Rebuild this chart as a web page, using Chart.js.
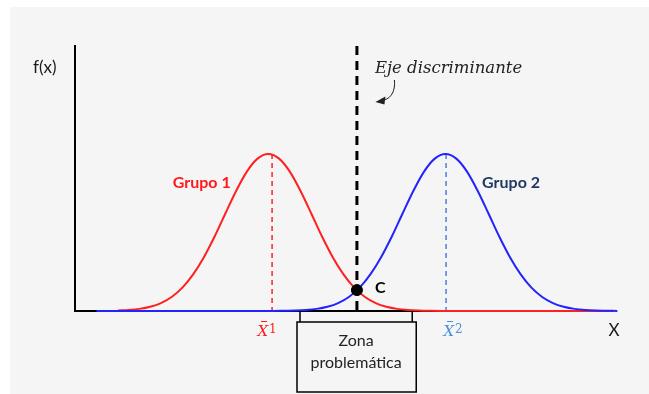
<!DOCTYPE html>
<html>
<head>
<meta charset="utf-8">
<script src="https://cdn.jsdelivr.net/npm/chart.js@4"></script>
<style>
    html, body { margin: 0; padding: 0; background: #fff; }
    canvas { display: block; }
</style>
</head>
<body>
<canvas id="discChart" width="649" height="394"></canvas>
<script>
// Grupo 1 (red) curve
const redX = [8, 10, 12, 14, 16, 18, 20, 22, 24, 26, 28, 30, 32, 34, 36, 38, 40, 42, 44, 46, 48, 50, 52, 54, 56, 58, 60, 62, 64, 66, 70, 100]
const redY = [0.002, 0.004, 0.008, 0.016, 0.030, 0.053, 0.088, 0.138, 0.203, 0.281, 0.368, 0.453, 0.526, 0.575, 0.592, 0.575, 0.526, 0.453, 0.368, 0.281, 0.203, 0.138, 0.088, 0.053, 0.030, 0.016, 0.008, 0.004, 0.002, 0.001, 0, 0]

// Grupo 2 (blue) curve
const blueX = [4, 37, 39, 41, 43, 45, 47, 49, 51, 53, 55, 57, 59, 61, 63, 65, 67, 69, 71, 73, 75, 77, 79, 81, 83, 85, 87, 89, 91, 93, 95, 97, 99, 101]
const blueY = [0, 0, 0.001, 0.002, 0.004, 0.008, 0.016, 0.030, 0.053, 0.088, 0.138, 0.203, 0.281, 0.368, 0.453, 0.526, 0.575, 0.592, 0.575, 0.526, 0.453, 0.368, 0.281, 0.203, 0.138, 0.088, 0.053, 0.030, 0.016, 0.008, 0.004, 0.002, 0.001, 0]

const meanLineX = [36.7, 69.1]
const peakY = 0.592
const cutX = 52.5
const cutY = 0.079
const zoneRange = [41.9, 62.8]
const groupLabels = ['Grupo 1', 'Grupo 2']
const groupLabelPos = [[23.6, 0.483], [81.2, 0.483]]

const toPoints = (xs, ys) => xs.map((x, i) => ({ x: x, y: ys[i] }))

const drawExtras = {
    id: 'drawExtras',
    beforeDraw(chart) {
        const ctx = chart.ctx
        ctx.save()
        ctx.fillStyle = '#ffffff'
        ctx.fillRect(0, 0, chart.width, chart.height)
        ctx.fillStyle = '#f5f5f5'
        ctx.fillRect(10, 7, chart.width - 10, chart.height - 7)
        ctx.restore()
    },
    afterDraw(chart) {
        const { ctx, scales: { x, y } } = chart
        const base = y.getPixelForValue(0)
        const cx = x.getPixelForValue(cutX)
        ctx.save()

        // group labels
        ctx.font = "bold 16px Lato"
        ctx.textAlign = 'center'
        ctx.textBaseline = 'middle'
        ctx.fillStyle = '#ff1a1a'
        ctx.fillText(groupLabels[0], x.getPixelForValue(groupLabelPos[0][0]), y.getPixelForValue(groupLabelPos[0][1]))
        ctx.fillStyle = '#1f3864'
        ctx.fillText(groupLabels[1], x.getPixelForValue(groupLabelPos[1][0]), y.getPixelForValue(groupLabelPos[1][1]))

        // point C
        ctx.fillStyle = '#000'
        ctx.textAlign = 'left'
        ctx.fillText('C', cx + 18, y.getPixelForValue(cutY) - 2)

        // axis names
        ctx.fillStyle = '#1a1a1a'
        ctx.font = "17px Lato"
        ctx.fillText('f(x)', 33, 68)
        ctx.textAlign = 'center'
        ctx.fillText('X', 614, 331)

        // mean labels (x bar)
        const meanColors = ['#ff1a1a', '#4a8fdb']
        const meanOffsets = [-6, 6]
        meanLineX.forEach((m, i) => {
            const px = x.getPixelForValue(m) + meanOffsets[i]
            ctx.fillStyle = meanColors[i]
            ctx.strokeStyle = meanColors[i]
            ctx.font = "italic 15px 'DejaVu Serif'"
            ctx.textAlign = 'right'
            ctx.textBaseline = 'alphabetic'
            ctx.fillText('X', px + 2, 336)
            ctx.lineWidth = 1
            ctx.beginPath()
            ctx.moveTo(px - 5, 321.5)
            ctx.lineTo(px + 1, 321.5)
            ctx.stroke()
            ctx.font = "12px 'DejaVu Serif'"
            ctx.textAlign = 'left'
            ctx.fillText(String(i + 1), px + 3, 333)
        })

        // zona problemática bracket and box
        const z1 = x.getPixelForValue(zoneRange[0])
        const z2 = x.getPixelForValue(zoneRange[1])
        ctx.strokeStyle = '#000'
        ctx.lineWidth = 1.5
        ctx.beginPath()
        ctx.moveTo(z1, base)
        ctx.lineTo(z1, base + 11)
        ctx.moveTo(z2, base)
        ctx.lineTo(z2, base + 11)
        ctx.stroke()
        ctx.strokeRect(z1 - 3, base + 11, z2 - z1 + 7, 70)
        ctx.fillStyle = '#222'
        ctx.font = "16px Lato"
        ctx.textAlign = 'center'
        ctx.textBaseline = 'middle'
        const zc = (z1 + z2) / 2
        ctx.fillText('Zona', zc, 341)
        ctx.fillText('problemática', zc, 363)

        // Eje discriminante + arrow
        ctx.fillStyle = '#222'
        ctx.font = "italic 16.5px 'DejaVu Serif'"
        ctx.textAlign = 'left'
        ctx.textBaseline = 'alphabetic'
        ctx.fillText('Eje discriminante', cx + 18, 73)
        ctx.lineWidth = 1
        ctx.strokeStyle = '#222'
        ctx.beginPath()
        ctx.moveTo(cx + 37.5, 80)
        ctx.bezierCurveTo(cx + 38.5, 90, cx + 35, 98, cx + 27, 100)
        ctx.stroke()
        ctx.beginPath()
        ctx.moveTo(cx + 18.5, 102)
        ctx.lineTo(cx + 28.5, 96.5)
        ctx.lineTo(cx + 27.5, 104.5)
        ctx.closePath()
        ctx.fill()

        ctx.restore()
    }
}

const config = {
    type: 'line',
    data: {
        datasets: [
            {
                label: 'Grupo 1',
                data: toPoints(redX, redY),
                borderColor: '#ff2020',
                borderWidth: 2,
                pointRadius: 0,
                cubicInterpolationMode: 'monotone',
                order: 3,
            },
            {
                label: 'Grupo 2',
                data: toPoints(blueX, blueY),
                borderColor: '#2323ff',
                borderWidth: 2,
                pointRadius: 0,
                cubicInterpolationMode: 'monotone',
                order: 2,
            },
            {
                label: 'media 1',
                data: [{ x: meanLineX[0], y: peakY }, { x: meanLineX[0], y: 0 }],
                borderColor: '#ff2020',
                borderWidth: 1.5,
                borderDash: [5, 4],
                pointRadius: 0,
                order: 4,
            },
            {
                label: 'media 2',
                data: [{ x: meanLineX[1], y: peakY }, { x: meanLineX[1], y: 0 }],
                borderColor: '#4a80d8',
                borderWidth: 1.5,
                borderDash: [5, 4],
                pointRadius: 0,
                order: 4,
            },
            {
                label: 'Eje discriminante',
                data: [{ x: cutX, y: 1 }, { x: cutX, y: 0 }],
                borderColor: '#000',
                borderWidth: 3,
                borderDash: [9, 6],
                pointRadius: 0,
                order: 1,
            },
            {
                label: 'C',
                data: [{ x: cutX, y: cutY }],
                showLine: false,
                pointRadius: 5.5,
                pointBackgroundColor: '#000',
                pointBorderColor: '#000',
                order: 0,
            }
        ]
    },
    options: {
        responsive: false,
        animation: false,
        devicePixelRatio: 1,
        clip: false,
        layout: {
            padding: { left: 75, right: 37, top: 46, bottom: 83 }
        },
        scales: {
            x: {
                type: 'linear',
                min: 0,
                max: 100,
                grid: { display: false, drawTicks: false },
                ticks: { display: false },
                border: { color: '#000', width: 2 }
            },
            y: {
                min: 0,
                max: 1,
                grid: { display: false, drawTicks: false },
                ticks: { display: false },
                border: { color: '#000', width: 2 }
            }
        },
        plugins: {
            legend: { display: false },
            tooltip: { enabled: false }
        }
    },
    plugins: [drawExtras]
}

new Chart(document.getElementById('discChart'), config)
</script>
</body>
</html>
